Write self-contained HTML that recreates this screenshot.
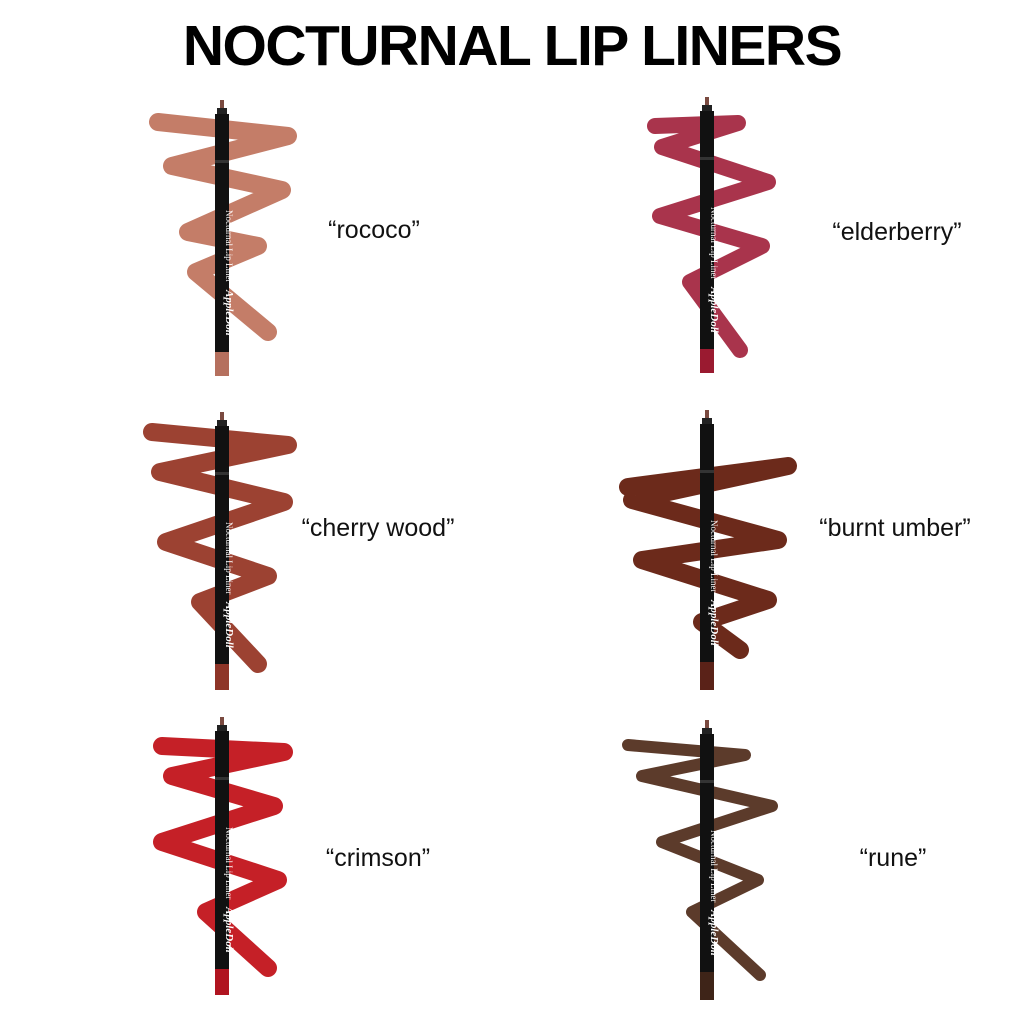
<!DOCTYPE html>
<html><head><meta charset="utf-8"><style>
html,body{margin:0;padding:0;background:#fff;}
svg{display:block}
</style></head><body>
<svg width="1024" height="1024" viewBox="0 0 1024 1024" xmlns="http://www.w3.org/2000/svg">
<rect width="1024" height="1024" fill="#fff"/>
<text x="512" y="65" text-anchor="middle" font-family="Liberation Sans, sans-serif" font-weight="bold" font-size="57" letter-spacing="-1.5">NOCTURNAL LIP LINERS</text>
<g fill="none" stroke-linecap="round" stroke-linejoin="round">
<polyline stroke="#c47d68" stroke-width="18" points="158,122 288,136 172,166 282,190 188,232 258,246 196,272 268,332"/>
<polyline stroke="#a9344c" stroke-width="16" points="655,126 738,123 662,147 768,182 660,216 762,246 690,282 740,350"/>
<polyline stroke="#9c4232" stroke-width="18" points="152,432 288,445 160,472 284,502 166,542 268,576 200,602 258,664"/>
<polyline stroke="#6c2a1b" stroke-width="18" points="628,487 788,466 632,500 778,540 642,560 768,600 702,622 740,650"/>
<polyline stroke="#c52027" stroke-width="18" points="162,746 284,752 172,776 274,806 162,842 278,880 206,912 268,968"/>
<polyline stroke="#5c3b2b" stroke-width="12" points="628,745 745,755 642,776 772,806 662,842 758,880 692,912 760,975"/>
</g>
<g font-family="Liberation Sans, sans-serif" font-size="25" text-anchor="middle" fill="#111">
<text x="374" y="238">“rococo”</text>
<text x="897" y="240">“elderberry”</text>
<text x="378" y="536">“cherry wood”</text>
<text x="895" y="536">“burnt umber”</text>
<text x="378" y="866">“crimson”</text>
<text x="893" y="866">“rune”</text>
</g>
<defs>
<g id="pen">
<rect x="-2" y="0" width="4" height="10" fill="#7a4a40"/>
<rect x="-5" y="8" width="10" height="8" fill="#222"/>
<rect x="-7" y="14" width="14" height="238" fill="#111"/>
<rect x="-7" y="60" width="14" height="3" fill="#333"/>
<text transform="translate(4,110) rotate(90)" font-family="Liberation Serif, serif" font-size="9" fill="#fff">Nocturnal Lip Liner</text>
<text transform="translate(4,190) rotate(90)" font-family="Liberation Serif, serif" font-style="italic" font-weight="bold" font-size="11" fill="#fff">AppleDoll</text>
</g>
</defs>
<use href="#pen" transform="translate(222,100)"/><rect x="215" y="352" width="14" height="24" fill="#b5705e"/>
<use href="#pen" transform="translate(707,97)"/><rect x="700" y="349" width="14" height="24" fill="#9a1a30"/>
<use href="#pen" transform="translate(222,412)"/><rect x="215" y="664" width="14" height="26" fill="#8e3528"/>
<use href="#pen" transform="translate(707,410)"/><rect x="700" y="662" width="14" height="28" fill="#5a2218"/>
<use href="#pen" transform="translate(222,717)"/><rect x="215" y="969" width="14" height="26" fill="#b01420"/>
<use href="#pen" transform="translate(707,720)"/><rect x="700" y="972" width="14" height="28" fill="#3e2418"/>
</svg>
</body></html>
